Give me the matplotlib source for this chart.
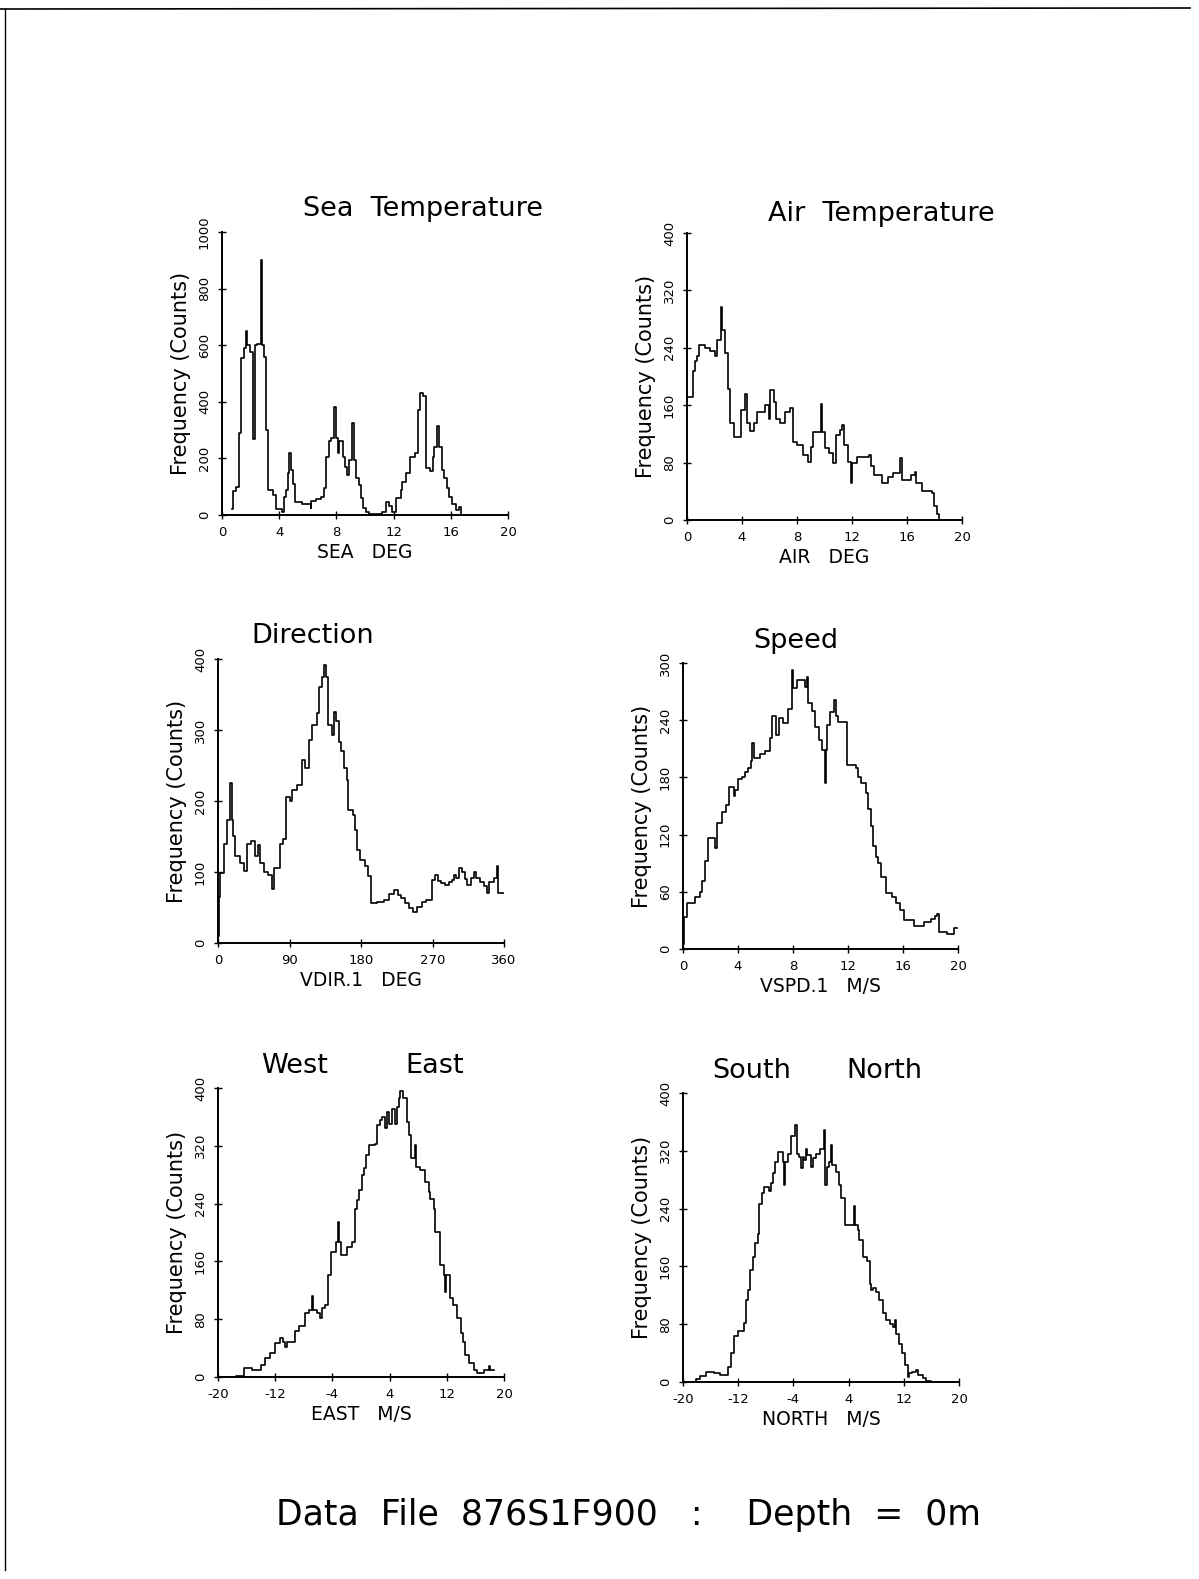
import matplotlib
matplotlib.use('Agg')
import matplotlib.pyplot as plt

W, H = 1199, 1579

# --- data (bin edge, count), step style ---
sea_x = [0.72, 0.78, 0.95, 1.2, 1.35, 1.55, 1.7, 1.78, 1.95, 2.2, 2.3, 2.45, 2.7, 2.8, 2.95, 3.1, 3.2, 3.55, 3.75,
         4.2, 4.35, 4.5, 4.6, 4.7, 4.85, 4.95, 5.1, 5.6, 6.2, 6.25, 6.6, 6.9, 7.15, 7.3, 7.45, 7.6, 7.85, 7.95,
         8.1, 8.2, 8.45, 8.6, 8.75, 8.9, 9.1, 9.25, 9.35, 9.55, 9.7, 9.85, 10.05, 10.3, 10.9, 11.2, 11.45, 11.65,
         11.9, 12.2, 12.5, 12.6, 12.9, 13.15, 13.5, 13.7, 13.85, 14.05, 14.3, 14.55, 14.75, 14.85, 15.0, 15.2,
         15.4, 15.55, 15.75, 15.9, 16.1, 16.35, 16.55, 16.7]
sea_y = [20, 85, 100, 290, 555, 590, 650, 600, 575, 270, 600, 605, 900, 600, 560, 300, 90, 70, 20,
         10, 65, 90, 150, 220, 160, 110, 45, 40, 25, 48, 58, 65, 95, 205, 260, 272, 380, 272,
         220, 260, 205, 170, 140, 195, 325, 195, 130, 105, 60, 25, 12, 3, 5, 12, 45, 33,
         10, 60, 90, 115, 148, 205, 218, 370, 430, 420, 165, 155, 205, 240, 315, 240,
         160, 130, 95, 65, 40, 18, 30, 0]

air_x = [0.0, 0.4, 0.55, 0.7, 0.85, 1.3, 1.7, 2.0, 2.2, 2.45, 2.55, 2.75, 2.95, 3.1, 3.45, 3.9, 4.25, 4.35,
         4.6, 4.85, 5.1, 5.65, 5.95, 6.05, 6.3, 6.5, 6.75, 7.1, 7.5, 7.7, 8.0, 8.4, 8.8, 9.0, 9.15, 9.75,
         9.85, 10.0, 10.3, 10.65, 10.85, 11.1, 11.3, 11.45, 11.7, 11.9, 12.0, 12.35, 13.2, 13.4, 13.6, 14.2,
         14.6, 15.0, 15.5, 15.6, 16.3, 16.55, 16.65, 17.1, 17.8, 17.95, 18.15, 18.3]
air_y = [172, 207, 221, 228, 244, 240, 235, 228, 251, 297, 265, 233, 183, 135, 116, 153, 176, 135,
         124, 135, 151, 160, 141, 181, 165, 141, 135, 150, 156, 109, 105, 90, 81, 102, 122, 161,
         122, 100, 93, 79, 119, 126, 133, 105, 81, 51, 79, 88, 90, 75, 63, 51,
         60, 65, 86, 56, 63, 67, 51, 40, 38, 20, 9, 0]

dir_x = [0, 1, 2, 8, 11, 15, 17, 19, 22, 28, 33, 36, 42, 46, 50, 53, 58, 63, 68, 70, 78, 82, 85, 90, 93,
         100, 106, 110, 115, 118, 124, 127, 131, 133, 136, 139, 143, 146, 149, 152, 155, 158, 162, 164,
         170, 172, 175, 179, 185, 189, 192, 200, 209, 215, 221, 226, 230, 236, 240, 246, 251, 257, 262,
         269, 273, 277, 281, 286, 291, 294, 297, 300, 303, 307, 311, 314, 318, 322, 325, 330, 335, 339,
         341, 347, 351, 353, 360]
dir_y = [10, 65, 98, 140, 173, 225, 173, 150, 122, 112, 102, 139, 143, 122, 138, 112, 100, 96, 76, 105,
         140, 146, 206, 200, 215, 222, 258, 247, 286, 307, 324, 361, 375, 391, 375, 307, 293, 326, 313,
         283, 271, 247, 229, 187, 180, 159, 131, 117, 108, 94, 56, 58, 60, 69, 74, 68, 63, 56, 49, 44,
         51, 58, 60, 89, 96, 88, 84, 82, 86, 89, 96, 92, 105, 100, 90, 82, 92, 100, 92, 86, 80, 70,
         86, 92, 108, 70, 70]

spd_x = [0.0, 0.05, 0.3, 0.9, 1.2, 1.4, 1.6, 1.8, 2.3, 2.45, 2.8, 3.1, 3.35, 3.7, 3.8, 4.0, 4.3, 4.5, 4.75,
         4.95, 5.05, 5.15, 5.6, 5.95, 6.35, 6.45, 6.75, 7.0, 7.3, 7.65, 7.9, 8.0, 8.3, 8.85, 9.05, 9.12,
         9.35, 9.6, 9.9, 10.1, 10.3, 10.4, 10.5, 10.7, 11.0, 11.1, 11.3, 11.9, 12.55, 12.7, 12.95, 13.3,
         13.45, 13.65, 13.8, 14.0, 14.2, 14.4, 14.75, 15.2, 15.5, 15.8, 16.1, 16.8, 17.5, 18.0, 18.3,
         18.45, 18.65, 19.2, 19.7, 19.9]
spd_y = [5, 34, 48, 55, 60, 71, 92, 116, 106, 132, 144, 151, 170, 160, 167, 178, 180, 186, 190,
         197, 216, 200, 205, 208, 221, 244, 225, 242, 237, 252, 293, 274, 282, 275, 285, 258,
         250, 233, 219, 209, 174, 209, 235, 249, 261, 244, 238, 193, 190, 180, 174, 164,
         147, 129, 108, 97, 90, 76, 59, 55, 48, 41, 30, 24, 28, 31, 35,
         37, 18, 16, 22, 22]

east_x = [-20, -17.5, -16.4, -15.2, -14.0, -13.4, -12.7, -12.0, -11.3, -10.9, -10.6, -10.3, -9.3, -8.7,
          -7.8, -7.3, -6.9, -6.75, -6.2, -5.7, -5.45, -5.0, -4.6, -4.15, -3.55, -3.25, -3.05, -2.8, -2.0,
          -1.3, -0.9, -0.6, -0.25, 0.15, 0.45, 0.7, 1.1, 2.0, 2.25, 2.6, 2.95, 3.3, 3.6, 3.95, 4.3, 4.7,
          5.0, 5.3, 5.5, 5.85, 6.45, 6.75, 7.05, 7.5, 7.7, 8.2, 9.0, 9.5, 9.7, 10.15, 10.4, 11.0, 11.55,
          11.75, 11.85, 12.5, 12.9, 13.4, 14.0, 14.2, 14.6, 15.1, 15.8, 16.2, 17.2, 17.9, 18.1, 18.6]
east_y = [0, 2, 13, 10, 17, 26, 33, 47, 54, 48, 42, 49, 63, 70,
          88, 93, 112, 93, 88, 81, 95, 100, 141, 173, 187, 215, 187, 169, 180,
          187, 233, 245, 259, 280, 289, 307, 321, 323, 349, 356, 360, 345, 367, 350, 371, 350,
          374, 386, 396, 386, 353, 335, 303, 321, 291, 286, 270, 256, 247, 233, 201, 155, 141,
          118, 141, 109, 100, 81, 61, 49, 31, 19, 10, 6, 10, 15, 10, 10]

north_x = [-20, -18.8, -18.1, -17.5, -16.7, -15.5, -14.7, -13.5, -13.05, -12.6, -12.1, -11.1, -10.9, -10.6,
           -10.3, -9.9, -9.5, -9.2, -8.95, -8.55, -8.2, -7.5, -7.25, -7.0, -6.6, -6.3, -5.55, -5.3, -5.15,
           -4.85, -4.35, -3.75, -3.55, -3.25, -2.9, -2.65, -2.4, -2.2, -2.0, -1.45, -1.2, -0.7, -0.2, 0.45,
           0.6, 0.8, 1.2, 1.45, 1.6, 2.2, 2.6, 2.9, 3.5, 4.8, 4.95, 5.3, 5.55, 6.05, 6.7, 7.1, 7.3, 7.5,
           8.0, 8.45, 8.95, 9.4, 10.0, 10.4, 10.75, 10.9, 11.25, 11.7, 12.2, 12.55, 12.8, 13.2, 13.75, 14.0,
           14.75, 15.2, 15.95]
north_y = [0, 0, 4, 8, 14, 12, 9, 21, 40, 63, 70, 81, 113, 127,
           155, 173, 192, 205, 247, 261, 270, 265, 275, 289, 305, 319, 305, 273, 305,
           316, 340, 356, 316, 311, 296, 311, 307, 323, 314, 298, 310, 316, 323, 349,
           273, 298, 305, 328, 301, 291, 273, 254, 217, 244, 217, 210, 196, 173, 168, 135, 127, 130,
           125, 113, 95, 86, 80, 76, 86, 67, 53, 40, 23, 7, 12, 14, 16, 10,
           5, 2, 0]

plt.rcParams['font.family'] = ['DejaVu Sans']

fig = plt.figure(figsize=(W / 100, H / 100), dpi=100)
fig.patch.set_facecolor('white')


def fx(px):
    return px / W


def fy(py):
    return 1 - py / H


def panel(xs, ys, box, xlim, ylim, xt, yt, xlabel):
    l, t, r, b = box
    ax = fig.add_axes([fx(l), fy(b), fx(r) - fx(l), (b - t) / H])
    ax.step(xs, ys, where='post', color='black', lw=1.2)
    ax.set_xlim(*xlim)
    ax.set_ylim(*ylim)
    ax.set_xticks(xt)
    ax.set_yticks(yt)
    ax.set_xticklabels([str(v) for v in xt], fontsize=9.5)
    ax.set_yticklabels([str(v) for v in yt], fontsize=9.5, rotation=90, va='center')
    for s in ['top', 'right']:
        ax.spines[s].set_visible(False)
    for s in ['left', 'bottom']:
        ax.spines[s].set_linewidth(1.4)
    ax.tick_params(axis='both', direction='inout', length=6, width=1.0, pad=5)
    ax.set_xlabel(xlabel, fontsize=13.5, labelpad=3)
    ax.set_ylabel('Frequency (Counts)', fontsize=15, labelpad=5)
    ax.patch.set_alpha(0)
    return ax


panel(sea_x, sea_y, (222, 232, 508, 515), (0, 20), (0, 1000),
      [0, 4, 8, 12, 16, 20], [0, 200, 400, 600, 800, 1000], 'SEA   DEG')
panel(air_x, air_y, (687, 233, 962, 520), (0, 20), (0, 400),
      [0, 4, 8, 12, 16, 20], [0, 80, 160, 240, 320, 400], 'AIR   DEG')
panel(dir_x, dir_y, (218, 659, 504, 943), (0, 360), (0, 400),
      [0, 90, 180, 270, 360], [0, 100, 200, 300, 400], 'VDIR.1   DEG')
panel(spd_x, spd_y, (683, 663, 958, 949), (0, 20), (0, 300),
      [0, 4, 8, 12, 16, 20], [0, 60, 120, 180, 240, 300], 'VSPD.1   M/S')
panel(east_x, east_y, (218, 1088, 504, 1377), (-20, 20), (0, 400),
      [-20, -12, -4, 4, 12, 20], [0, 80, 160, 240, 320, 400], 'EAST   M/S')
panel(north_x, north_y, (683, 1093, 959, 1382), (-20, 20), (0, 400),
      [-20, -12, -4, 4, 12, 20], [0, 80, 160, 240, 320, 400], 'NORTH   M/S')

titles = [('Sea  Temperature', 423, 209), ('Air  Temperature', 881, 214),
          ('Direction', 313, 636), ('Speed', 796, 641),
          ('West', 295, 1066), ('East', 435, 1066),
          ('South', 752, 1071), ('North', 884, 1071)]
for txt, x, y in titles:
    fig.text(fx(x), fy(y), txt, fontsize=19.5, ha='center', va='center')

fig.text(fx(629), fy(1515), 'Data  File  876S1F900   :    Depth  =  0m', fontsize=25,
         ha='center', va='center')

# page frame lines from the scan
fig.add_artist(plt.Line2D([fx(0), fx(1190)], [fy(9), fy(8)], color='black', lw=1.2))
fig.add_artist(plt.Line2D([fx(5), fx(5)], [fy(9), fy(1570)], color='black', lw=1.0))

fig.savefig('out.png', dpi=100)
